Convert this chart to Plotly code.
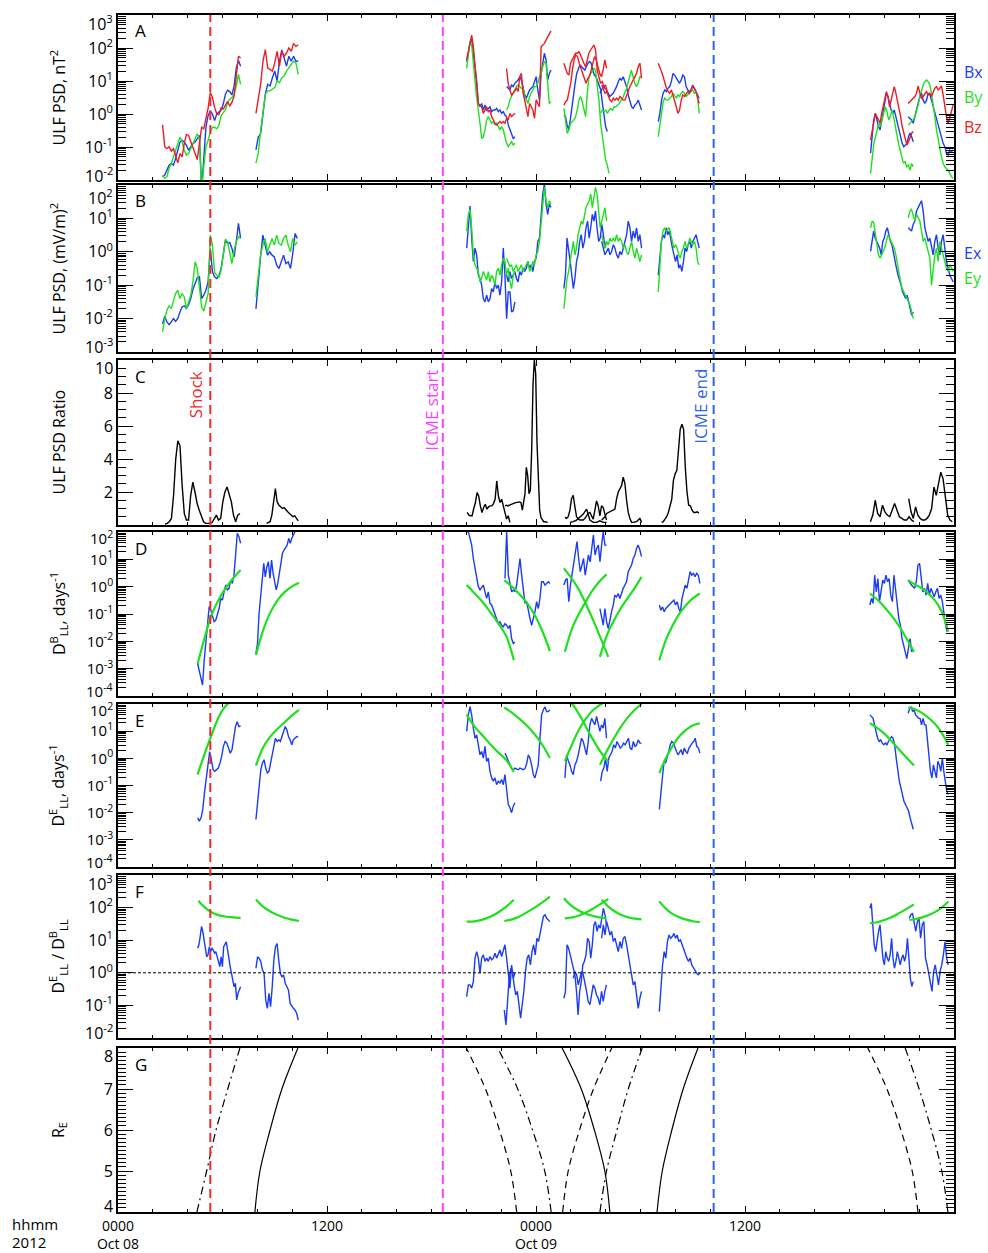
import numpy as np
import plotly.graph_objects as go

# ------------------------------------------------------------------
# DATA  (time in hours since 2012-10-08 00:00 UT; PSD / D_LL as log10)
# each segment: (t_start, t_end, [values sampled evenly over the span])
# ------------------------------------------------------------------
EVENTS = [("Shock", 5.3), ("ICME start", 18.65), ("ICME end", 34.2)]

# Panel A: ULF PSD of magnetic field, log10(nT^2)
A_BX = [
 (2.56, 7.04, [-1.9, -1.85, -1.7, -1.55, -1.5, -1.55, -1.35, -1.1, -0.85, -0.8, -0.85, -0.95, -1.1, -1.0, -0.9, -0.85, -0.75, -0.65, -2.3, -1.3, -0.4, -0.05, 0.1, 0.0, -0.2, 0.0, 0.05, 0.12, 0.3, 0.6, 0.72, 0.68, 0.58, 0.85, 1.4, 1.62, 1.45]),
 (7.92, 10.35, [-1.09, -0.7, -0.6, 0.1, 0.6, 0.9, 0.85, 1.1, 1.3, 1.0, 1.6, 1.94, 1.7, 1.45, 1.75, 1.6, 1.75, 1.6, 1.6]),
 (20.02, 22.79, [1.59, 1.9, 2.15, 2.3, 1.84, 1.3, 1.0, 0.3, 0.22, 0.32, 0.12, 0.27, 0.12, 0.17, 0.22, 0.07, 0.12, 0.12, 0.17, 0.07, 0.12, 0.02, 0.07, -0.03, -0.08, -0.33, -0.48, -0.58, -0.74, -0.69]),
 (22.31, 24.86, [0.83, 0.78, 0.73, 0.88, 0.83, 0.93, 0.98, 1.03, 1.13, 1.03, 0.83, 0.58, 0.48, 0.63, 0.73, 0.78, 0.83, 0.98, 1.13, 0.73, 0.43, 1.23, 1.53, 1.84, 1.64, 1.03, 1.23, 1.33]),
 (25.60, 28.09, [-0.03, -0.08, -0.33, -0.48, -0.18, 0.22, 0.63, 0.93, 1.23, 1.38, 1.49, 1.43, 1.38, 1.33, 1.43, 1.54, 1.59, 1.54, 1.33, 1.18, 1.13, 0.98, 0.83, 0.73, 0.32, 0.02, -0.38, -0.53]),
 (27.67, 30.06, [0.63, 0.73, 0.83, 0.78, 0.73, 0.63, 0.53, 0.58, 0.63, 0.73, 0.83, 0.98, 1.08, 1.03, 1.13, 0.98, 0.83, 0.58, 0.42, 0.22, 0.17, 0.27, 0.32, 0.42, 0.27, 0.12]),
 (31.02, 33.37, [-0.23, 0.02, 0.42, 0.63, 0.73, 0.68, 0.78, 0.83, 0.98, 1.23, 1.18, 1.08, 0.98, 0.93, 1.03, 1.18, 1.13, 0.83, 0.73, 0.68, 0.73, 0.88, 0.78, 0.68, 0.53, 0.48]),
 (43.21, 45.66, [-1.19, -0.69, -0.18, 0.02, -0.18, -0.38, -0.48, -0.18, 0.12, 0.32, 0.63, 0.53, 0.27, 0.12, 0.02, 0.12, -0.08, -0.28, -0.48, -0.69, -0.89, -0.99, -0.94, -0.89, -0.69, -0.58, -0.69, -0.84]),
 (45.37, 47.95, [-0.08, -0.13, -0.18, -0.28, -0.08, 0.12, 0.27, 0.53, 0.63, 0.42, 0.32, 0.42, 0.63, 0.58, 0.42, 0.22, 0.02, -0.18, -0.38, -0.58, -0.74, -0.89, -0.99, -1.19, -1.24, -1.09, -1.14, -1.09]),
]
A_BY = [
 (2.56, 7.04, [-1.85, -1.95, -1.9, -1.65, -1.5, -1.3, -1.1, -0.95, -0.7, -0.85, -1.1, -1.25, -1.2, -1.05, -0.9, -0.7, -0.6, -0.75, -2.3, -1.6, -1.0, -0.8, -0.55, -0.4, -0.4, -0.45, -0.35, -0.05, 0.05, 0.12, 0.35, 0.45, 0.5, 0.6, 0.85, 1.2, 0.9]),
 (7.92, 10.35, [-1.49, -1.2, -0.5, 0.1, 0.6, 0.7, 0.7, 0.75, 0.8, 1.0, 0.95, 1.1, 1.15, 1.3, 1.4, 1.5, 1.6, 1.55, 1.2]),
 (20.02, 22.79, [1.38, 1.9, 2.2, 2.1, 1.64, 1.0, 0.5, 0.0, -0.28, -0.74, -0.69, -0.49, -0.18, -0.08, -0.18, -0.28, -0.23, -0.33, -0.28, -0.38, -0.48, -0.38, -0.48, -0.69, -0.89, -0.99, -0.89, -0.84, -0.94, -0.89]),
 (22.31, 24.86, [0.12, 0.22, 0.43, 0.53, 0.63, 0.73, 0.83, 0.88, 0.83, 0.78, 0.78, 0.53, 0.43, 0.32, 0.53, 0.63, 0.78, 0.83, 0.83, 0.93, 1.13, 1.23, 1.43, 1.58, 1.53, 0.93, 0.32, 0.37]),
 (25.60, 28.19, [0.17, -0.18, -0.59, -0.48, -0.28, -0.23, -0.18, -0.08, 0.12, 0.42, 0.53, 0.37, 0.12, -0.08, 0.63, 1.13, 1.23, 1.28, 1.38, 1.33, 0.83, 0.42, -0.28, -0.69, -1.09, -1.39, -1.55, -1.8]),
 (27.71, 30.06, [0.02, 0.12, 0.07, 0.12, 0.02, 0.12, 0.17, 0.12, 0.22, 0.22, 0.27, 0.32, 0.42, 0.48, 0.63, 0.73, 0.93, 1.18, 1.33, 1.13, 0.93, 0.83, 0.93, 1.13, 1.13]),
 (31.02, 33.37, [-0.69, -0.28, 0.12, 0.37, 0.48, 0.42, 0.42, 0.48, 0.53, 0.63, 0.53, 0.48, 0.58, 0.53, 0.63, 0.68, 0.63, 0.53, 0.58, 0.63, 0.68, 0.73, 0.63, 0.68, 0.53, 0.02]),
 (43.21, 45.66, [-1.8, -1.29, -0.89, -0.69, -0.48, -0.28, -0.38, -0.18, 0.02, 0.22, 0.07, -0.18, -0.08, 0.12, -0.08, -0.38, -0.69, -0.89, -1.09, -1.29, -1.49, -1.44, -1.6, -1.55, -1.7, -1.5, -1.6]),
 (45.37, 47.95, [-0.33, -0.28, -0.23, -0.18, -0.08, 0.07, 0.27, 0.53, 0.73, 0.88, 0.98, 1.03, 0.98, 0.88, 0.63, 0.32, -0.08, -0.48, -0.79, -0.99, -1.29, -1.49, -1.6, -1.65, -1.7, -1.8, -1.9, -1.95]),
]
A_BZ = [
 (2.56, 7.04, [-0.33, -1.0, -1.05, -0.99, -1.12, -1.05, -1.25, -1.48, -1.2, -1.3, -0.9, -0.62, -0.65, -0.82, -0.97, -1.2, -1.38, -0.95, -0.4, -0.45, -0.12, 0.18, 0.65, 0.5, 0.2, 0.0, -0.02, 0.18, 0.15, 0.28, 0.38, 0.25, 0.35, 0.55, 1.2, 1.75, 1.7]),
 (7.92, 10.35, [0.02, 0.53, 0.9, 1.6, 1.95, 1.4, 1.35, 1.3, 1.55, 1.9, 1.45, 1.9, 1.75, 1.85, 2.0, 1.9, 2.14, 2.05, 2.1]),
 (20.02, 22.79, [1.64, 1.9, 2.24, 2.39, 2.04, 1.54, 0.93, 0.32, 0.27, 0.22, 0.02, 0.12, 0.22, 0.07, 0.12, -0.08, -0.18, -0.28, -0.33, -0.28, -0.23, -0.28, -0.23, -0.28, -0.13, -0.18, 0.02, -0.08, -0.03, 0.02]),
 (22.31, 24.86, [1.38, 0.93, 0.73, 0.58, 0.63, 0.73, 0.78, 0.68, 1.13, 1.23, 0.63, 0.43, 0.12, -0.08, 0.32, 0.22, 0.12, -0.13, 0.43, 0.32, 0.22, 2.04, 2.09, 2.14, 2.24, 2.34, 2.45, 2.52]),
 (25.60, 28.09, [1.54, 1.38, 1.23, 1.18, 1.54, 1.64, 1.74, 1.84, 1.84, 1.89, 1.79, 1.69, 1.54, 1.43, 1.64, 1.84, 1.94, 2.04, 2.09, 1.94, 1.33, 1.13, 0.93, 0.98, 0.83, 0.88, 0.63]),
 (25.60, 28.05, [0.27, 0.37, 0.42, 0.63, 0.93, 1.33, 1.64, 1.79, 1.74, 1.54, 1.38, 1.23, 1.03, 0.93, 1.08, 1.13, 1.33, 1.54, 1.74, 1.64, 1.43, 1.23, 1.13, 1.33, 1.64, 1.38]),
 (27.77, 30.06, [0.88, 0.73, 0.63, 0.68, 0.53, 0.42, 0.37, 0.48, 0.42, 0.48, 0.42, 0.53, 0.48, 0.42, 0.42, 0.58, 0.68, 0.83, 0.93, 1.03, 1.13, 1.23, 1.43, 1.54, 1.08]),
 (31.02, 33.37, [1.54, 1.43, 1.28, 1.13, 0.93, 0.78, 0.68, 0.63, 0.73, 0.58, 0.42, 0.22, 0.02, 0.12, 0.42, 0.58, 0.53, 0.63, 0.68, 0.63, 0.73, 0.83, 0.78, 0.68, 0.48, 0.32]),
 (43.21, 45.66, [-0.79, -0.48, -0.18, 0.02, -0.08, -0.18, -0.28, 0.02, 0.22, 0.42, 0.68, 0.53, 0.22, 0.42, 0.68, 0.83, 0.63, 0.42, 0.12, -0.08, -0.38, -0.58, -0.79, -0.94, -0.84, -0.69, -0.58, -0.53]),
 (45.37, 47.95, [0.32, 0.37, 0.42, 0.48, 0.53, 0.63, 0.85, 0.63, 0.48, 0.53, 0.63, 0.68, 0.58, 0.63, 0.53, 0.68, 0.78, 0.83, 0.73, 0.78, 0.85, 0.58, 0.22, -0.08, -0.28, -0.08, 0.12, 0.27]),
]

# Panel B: ULF PSD of electric field, log10((mV/m)^2)
B_EX = [
 (2.56, 7.04, [-2.16, -1.93, -2.1, -2.18, -2.1, -2.0, -2.08, -2.0, -1.8, -1.65, -1.62, -1.7, -1.58, -1.4, -1.12, -0.95, -0.78, -0.75, -1.4, -1.3, -1.15, -0.9, 0.1, -0.6, -0.75, -0.8, -0.72, -0.5, 0.0, 0.35, 0.25, 0.28, 0.1, -0.15, 0.3, 0.85, 0.4]),
 (7.92, 10.30, [-1.71, -0.8, -0.15, 0.5, 0.2, -0.1, 0.0, -0.1, -0.15, -0.4, -0.5, -0.3, -0.1, -0.35, -0.3, -0.5, -0.05, 0.55, 0.4]),
 (20.02, 22.79, [0.11, 0.92, 1.37, 0.41, -0.29, 0.11, -0.09, -0.7, -0.8, -1.0, -1.4, -1.5, -1.3, -1.5, -1.4, -1.1, -1.2, -0.9, -1.1, -1.0, -1.3, -0.9, 0.11, -0.7, -2.0, -1.2, -1.2, -1.8, -1.76, -1.5]),
 (22.31, 24.86, [-0.7, -0.9, -0.59, -0.8, -0.7, -0.59, -0.8, -0.9, -0.59, -0.7, -0.49, -0.59, -0.49, -0.29, -0.49, -0.39, -0.59, -0.29, -0.19, 0.31, 0.41, 1.12, 1.73, 2.03, 1.43, 1.12, 1.43, 1.33]),
 (25.60, 28.05, [-1.1, -0.7, 0.41, 0.11, -0.29, -0.7, -1.1, -0.8, -0.29, -0.09, 0.31, 0.51, 0.11, 0.31, 0.72, 0.92, 0.41, 0.72, 1.12, 0.92, 1.22, 0.72, 0.31, 0.41, 0.82, 0.51, 0.11, 0.31]),
 (27.77, 30.06, [0.31, 0.11, -0.09, 0.01, 0.11, -0.09, 0.01, 0.21, 0.11, -0.09, -0.19, 0.01, -0.09, 0.11, 0.31, 0.51, 0.92, 0.72, 0.31, 0.62, 0.41, 0.72, 0.31, 0.51, 0.11]),
 (31.02, 33.37, [-0.7, -0.09, 0.31, 0.51, 0.41, 0.72, 0.51, 0.62, 0.31, 0.11, -0.09, -0.29, -0.09, -0.49, -0.39, -0.59, -0.29, 0.11, 0.01, 0.21, 0.31, 0.11, 0.31, 0.41, 0.51, 0.31, 0.11]),
 (43.21, 45.66, [0.01, 0.41, 0.62, 0.41, 0.31, 0.21, 0.11, -0.09, 0.31, 0.41, 0.62, 0.72, 0.51, 0.31, 0.21, 0.01, -0.19, -0.49, -0.7, -0.9, -1.0, -1.2, -1.3, -1.4, -1.3, -1.5, -1.7, -1.9, -1.8]),
 (45.37, 47.95, [0.72, 0.67, 0.62, 0.82, 0.92, 1.22, 1.32, 1.43, 1.53, 1.22, 0.72, 0.51, 0.31, 0.41, 0.11, -0.09, 0.31, 0.51, 0.11, -0.09, 0.31, 0.51, 0.11, -0.29, -0.49, -0.7, -0.8, -0.9]),
]
B_EY = [
 (2.56, 7.04, [-2.4, -2.0, -1.75, -1.62, -1.7, -1.5, -1.25, -1.15, -1.4, -1.25, -1.35, -1.7, -1.5, -1.3, -0.9, -0.3, -0.5, -1.0, -1.65, -1.78, -1.5, -1.25, 0.5, 0.2, -0.62, -0.7, -0.78, -0.55, -0.15, 0.38, 0.3, 0.0, -0.35, 0.05, 0.3, 0.45, 0.41]),
 (7.92, 10.30, [-1.35, -0.7, -0.1, 0.2, 0.4, 0.0, 0.2, 0.4, 0.2, 0.5, 0.25, 0.2, 0.4, 0.5, 0.2, 0.0, 0.4, 0.2, 0.3]),
 (20.02, 22.79, [0.62, 1.12, 1.27, 0.72, -0.09, -0.39, -0.49, -0.59, -0.9, -0.8, -0.59, -0.7, -0.85, -0.59, -0.9, -0.7, -0.8, -1.0, -0.59, -0.49, -0.7, -0.39, -0.19, -0.29, -0.7, -0.49, -0.9, -1.1, -0.7, -0.59]),
 (22.31, 24.86, [-0.19, -0.29, -0.44, -0.39, -0.59, -0.49, -0.39, -0.59, -0.49, -0.39, -0.59, -0.49, -0.39, -0.29, -0.59, -0.49, -0.29, -0.39, -0.09, 0.01, 0.31, 0.92, 1.32, 1.93, 1.53, 1.32, 1.53, 1.43]),
 (25.60, 28.05, [-1.7, -1.2, -0.8, -0.59, -0.29, -0.09, 0.31, -0.09, 0.11, 0.51, 0.72, 0.92, 0.82, 1.12, 1.32, 1.43, 1.53, 1.73, 1.32, 1.63, 1.93, 1.73, 1.12, 0.72, 0.92, 1.12, 1.32, 0.92]),
 (27.77, 30.06, [0.51, 0.31, 0.11, 0.31, 0.21, 0.41, 0.31, 0.41, 0.31, 0.51, 0.31, 0.41, 0.31, 0.11, 0.21, 0.01, -0.09, 0.11, 0.31, 0.01, -0.19, 0.11, -0.09, -0.29, -0.09]),
 (31.02, 33.37, [-1.2, -0.39, 0.31, 0.62, 0.72, 0.62, 0.67, 0.72, 0.51, 0.31, 0.11, 0.21, 0.11, -0.09, -0.19, 0.01, 0.11, 0.31, 0.11, 0.21, 0.41, 0.31, 0.21, 0.31, 0.11, -0.29, -0.39]),
 (43.21, 45.66, [0.72, 0.92, 0.87, 0.51, 0.11, -0.09, -0.19, -0.09, 0.01, 0.11, 0.31, 0.51, 0.41, 0.31, 0.21, 0.11, -0.09, -0.39, -0.59, -0.9, -1.1, -1.2, -1.3, -1.4, -1.5, -1.6, -1.8, -2.0]),
 (45.37, 47.95, [1.02, 1.22, 1.27, 1.12, 0.92, 1.12, 1.02, 0.92, 0.62, 0.31, 0.41, 0.21, 0.01, -0.19, -1.0, -0.49, -0.09, 0.11, -0.29, 0.31, 0.11, -0.09, -0.29, -0.49, -0.59, -0.39, -0.49, -0.59]),
]

# Panel C: ULF PSD ratio (linear)
C_RATIO = [
 (2.70, 7.00, [0.05, 0.1, 0.2, 0.4, 1.8, 4.0, 5.1, 4.8, 2.4, 0.7, 0.3, 0.3, 1.8, 2.6, 2.0, 1.3, 0.9, 0.5, 0.2, 0.1, 0.1, 0.1, 0.15, 0.4, 0.6, 0.3, 0.4, 1.4, 2.0, 2.3, 1.8, 1.4, 0.6, 0.2, 0.6, 0.7]),
 (8.53, 10.35, [0.1, 0.15, 0.2, 0.6, 1.5, 2.2, 1.4, 1.2, 1.1, 1.0, 1.05, 0.9, 0.8, 0.7, 0.6, 0.5, 0.55, 0.4, 0.25]),
 (20.05, 22.50, [0.76, 0.6, 0.56, 0.56, 1.0, 1.36, 1.96, 1.76, 1.16, 0.76, 1.06, 1.26, 0.96, 1.1, 1.16, 1.16, 1.3, 1.56, 2.67, 1.76, 1.36, 1.56, 1.16, 0.76, 0.36, 0.56, 0.16]),
 (22.22, 24.67, [1.16, 1.2, 1.16, 1.2, 1.25, 1.26, 1.3, 1.33, 1.36, 1.36, 1.36, 1.4, 1.35, 0.9, 1.4, 1.9, 3.5, 3.0, 1.9, 2.1, 4.5, 8.5, 10.0, 9.2, 5.0, 2.16, 0.9, 0.45, 0.3, 0.2, 0.2, 0.18, 0.16]),
 (25.66, 28.05, [0.46, 0.4, 0.5, 0.9, 1.6, 1.8, 1.1, 0.5, 0.36, 0.3, 0.3, 0.3, 0.4, 0.56, 0.7, 0.76, 0.5, 0.36, 0.9, 1.46, 1.16, 0.56, 1.16, 1.06, 0.66, 0.3]),
 (25.95, 28.05, [0.16, 0.2, 0.3, 0.46, 0.66, 0.96, 0.3, 0.16, 0.16, 0.25, 0.16, 0.16]),
 (27.77, 30.06, [0.3, 0.4, 0.5, 0.7, 0.76, 0.8, 0.86, 0.9, 0.96, 1.6, 2.0, 2.2, 2.4, 2.9, 2.5, 1.5, 0.76, 0.4, 0.16, 0.16, 0.16, 0.2, 0.3, 0.4, 0.16]),
 (31.21, 33.35, [0.16, 0.2, 0.36, 0.5, 0.76, 1.1, 1.56, 2.7, 3.1, 3.3, 4.4, 5.8, 6.1, 5.8, 3.5, 2.0, 1.2, 1.16, 0.9, 0.76, 0.76, 0.8, 0.72]),
 (43.20, 45.70, [0.2, 0.6, 1.5, 0.7, 0.5, 1.2, 0.8, 0.6, 0.5, 0.9, 1.3, 0.9, 0.5, 0.4, 0.3, 0.3, 0.5, 0.3, 0.2]),
 (45.40, 47.90, [1.6, 0.8, 0.4, 1.1, 0.6, 0.4, 0.3, 0.3, 0.4, 0.6, 1.0, 2.3, 1.8, 2.6, 3.2, 2.8, 1.5, 0.6, 0.3, 0.2]),
]

# Panel D: D_LL^B, log10(days^-1): measured (blue) and model (green)
D_MEAS = [
 (4.57, 7.04, [-2.81, -3.05, -3.36, -3.6, -2.69, -1.96, -1.35, -0.73, -0.86, -1.1, -1.28, -1.22, -1.04, -0.8, -0.43, -0.49, -0.19, 0.06, -0.12, -0.06, 0.24, 0.12, 0.43, 1.34, 1.95, 1.83, 1.59]),
 (7.92, 10.16, [-2.44, -2.08, -0.98, -0.19, 0.24, 0.85, 0.36, 0.73, 0.91, 0.3, 0.97, 0.49, 0.24, -0.12, 0.12, 0.49, 0.85, 1.22, 1.34, 1.46, 1.52, 1.77, 1.59, 1.77, 1.89, 2.01]),
 (20.02, 22.79, [2.01, 2.01, 1.77, 1.52, 1.03, 0.67, 0.3, 0.0, -0.12, 0.0, 0.06, -0.19, -0.43, -0.19, -0.61, -0.67, -0.86, -1.04, -1.22, -1.35, -1.28, -1.41, -1.47, -1.35, -1.41, -1.53, -1.41, -1.9, -2.08, -2.02]),
 (22.22, 24.80, [0.3, 2.01, 0.42, 0.12, -0.19, -0.12, -0.19, 0.06, 0.55, 1.03, 0.42, -0.19, -0.61, -0.55, -0.92, -1.16, -1.41, -1.16, -0.92, -0.55, -0.8, -0.43, 0.18, 0.18, 0.06, 0.12, 0.18, 0.12]),
 (25.60, 28.05, [0.06, 0.24, 0.3, -0.55, 0.06, 0.42, 0.79, 1.28, 1.65, 1.03, 0.55, 0.79, 1.03, 0.42, 0.79, 1.16, 0.91, 1.52, 1.89, 1.16, 1.4, 1.52, 0.91, 1.52, 2.01, 1.52, 1.52]),
 (27.67, 30.06, [-0.8, -1.16, -1.41, -0.8, -1.28, -1.53, -1.16, -0.92, -0.67, -0.31, -0.37, -0.25, -0.43, -0.19, -0.06, 0.06, 0.18, 0.55, 0.67, 0.79, 1.03, 1.16, 1.4, 1.52, 1.34, 1.1]),
 (31.08, 33.41, [-0.67, -0.86, -0.74, -0.92, -0.8, -0.74, -0.67, -0.61, -0.55, -0.49, -0.67, -0.55, -0.8, -0.92, -0.43, -0.19, 0.06, -0.06, 0.3, 0.55, 0.42, 0.49, 0.36, 0.49, 0.42, 0.12]),
 (43.17, 45.66, [-0.67, -0.43, -0.61, 0.42, -0.19, 0.3, -0.55, -0.19, 0.24, 0.12, 0.42, 0.18, 0.3, -0.31, -0.55, 0.42, -0.19, -0.67, -1.16, -1.41, -1.9, -2.14, -2.38, -2.63, -2.26, -1.9, -2.38, -2.32]),
 (45.37, 47.61, [0.24, 0.12, 0.06, 0.0, -0.06, 0.18, 0.79, 0.85, 0.42, -0.19, -0.06, -0.31, 0.12, -0.31, -0.06, -0.19, -0.37, -0.19, -0.06, -0.43, -0.31, -0.55, -1.04, -1.41, -1.65]),
]
D_MODEL = [
 (4.57, 7.04, [-2.83, -1.85, -1.0, -0.45, -0.02, 0.32, 0.61]),
 (7.92, 10.39, [-2.5, -1.6, -0.95, -0.5, -0.2, 0.0, 0.14]),
 (20.02, 22.73, [0.06, -0.24, -0.55, -0.93, -1.33, -1.79, -2.69]),
 (22.18, 24.80, [0.24, 0.0, -0.28, -0.6, -1.04, -1.62, -2.36]),
 (25.60, 28.15, [0.67, 0.32, -0.1, -0.65, -1.25, -1.9, -2.57]),
 (25.66, 28.05, [-2.38, -1.55, -1.0, -0.55, -0.13, 0.2, 0.45]),
 (27.67, 30.06, [-2.57, -1.78, -1.25, -0.8, -0.42, -0.05, 0.36]),
 (31.08, 33.41, [-2.69, -1.93, -1.4, -0.98, -0.66, -0.42, -0.25]),
 (43.17, 45.70, [-0.25, -0.47, -0.75, -1.08, -1.45, -1.9, -2.38]),
 (45.37, 47.67, [0.24, 0.08, -0.05, -0.25, -0.5, -0.9, -1.65]),
]

# Panel E: D_LL^E, log10(days^-1)
E_MEAS = [
 (4.57, 7.04, [-2.19, -2.31, -2.19, -1.88, -1.27, -0.78, -0.29, 0.25, -0.05, -0.42, -0.48, -0.42, -0.36, -0.17, 0.07, 0.44, 0.62, 0.56, 0.38, 0.19, 0.32, 0.68, 1.17, 1.35, 1.17, 1.19]),
 (7.92, 10.35, [-2.25, -1.64, -0.91, -0.42, -0.17, -0.05, -0.36, -0.54, -0.48, -0.17, 0.13, 0.44, 0.74, 0.62, 0.68, 0.62, 0.8, 0.99, 1.17, 1.05, 0.8, 0.68, 0.5, 0.68, 0.74, 0.8, 0.78]),
 (20.02, 22.79, [0.99, 1.6, 1.9, 1.6, 1.11, 0.74, 0.86, 0.5, 0.13, 0.25, 0.01, 0.44, -0.11, 0.01, -0.48, -0.72, -0.84, -0.72, -0.97, -0.84, -0.91, -0.78, -0.97, -0.6, -1.09, -1.7, -1.82, -2.0, -1.76, -1.64]),
 (22.22, 24.80, [0.2, 0.05, -0.15, -0.28, -0.38, -0.42, -0.36, -0.4, -0.42, -0.36, -0.4, -0.42, -0.38, -0.2, 0.13, 0.01, -0.24, -0.6, -0.72, -0.48, -0.24, 0.74, 1.6, 1.78, 1.9, 1.72, 1.72, 1.78]),
 (25.66, 28.05, [-0.72, 0.13, -0.09, -0.24, -0.48, -0.6, -0.24, -0.11, 0.13, 0.5, 0.74, 0.62, 0.38, 0.13, 0.62, 1.23, 1.47, 1.35, 1.23, 1.54, 1.23, 0.99, 1.23, 1.11, 1.47, 0.74]),
 (27.71, 30.06, [-0.84, -0.48, -0.36, 0.01, -0.48, 0.01, 0.13, 0.25, 0.5, 0.38, 0.62, 0.5, 0.38, 0.44, 0.56, 0.5, 0.62, 0.74, 0.38, 0.32, 0.62, 0.44, 0.5, 0.68, 0.56, 0.56]),
 (31.08, 33.41, [-1.88, -1.21, -0.48, -0.11, -0.17, 0.01, 0.25, 0.5, 0.62, 0.56, 0.38, 0.25, 0.13, 0.25, 0.32, 0.13, 0.38, 0.25, 0.19, 0.38, 0.5, 0.56, 0.62, 0.74, 0.44, 0.38, 0.19]),
 (43.17, 45.66, [1.6, 1.54, 1.48, 1.23, 0.99, 0.74, 0.62, 0.68, 0.56, 0.5, 0.56, 0.5, 0.62, 0.74, 0.8, 0.74, 0.5, 0.01, -0.48, -0.84, -1.09, -1.33, -1.58, -1.7, -1.82, -1.94, -2.19, -2.43, -2.61]),
 (45.37, 47.67, [1.66, 1.84, 1.9, 1.72, 1.78, 1.6, 1.54, 1.47, 1.47, 1.23, 1.47, 1.23, 1.23, 0.62, 0.01, -0.48, -0.72, -0.24, -0.48, -0.72, -0.11, -0.24, -0.48, 0.01, -0.48, -0.97, -1.21, -1.33]),
]
E_MODEL = [
 (4.57, 7.04, [-0.6, 0.18, 0.9, 1.55, 1.95, 2.15, 2.3]),
 (7.92, 10.39, [-0.27, 0.4, 0.8, 1.08, 1.33, 1.57, 1.78]),
 (20.02, 22.73, [1.62, 1.17, 0.85, 0.52, 0.22, -0.05, -0.5]),
 (22.18, 24.80, [1.87, 1.68, 1.45, 1.2, 0.88, 0.5, 0.01]),
 (25.60, 28.15, [2.35, 2.05, 1.65, 1.15, 0.66, 0.22, -0.12]),
 (25.66, 28.05, [-0.11, 0.5, 1.04, 1.45, 1.76, 1.96, 2.1]),
 (27.67, 30.06, [-0.24, 0.27, 0.73, 1.15, 1.5, 1.78, 2.0]),
 (31.08, 33.41, [-0.54, 0.02, 0.47, 0.82, 1.06, 1.22, 1.29]),
 (43.17, 45.70, [1.29, 1.12, 0.9, 0.62, 0.32, 0.02, -0.26]),
 (45.37, 47.67, [1.87, 1.81, 1.68, 1.5, 1.27, 0.95, 0.5]),
]

# Panel F: D_LL^E / D_LL^B (log10)
F_MEAS = [
 (4.57, 7.04, [0.75, 0.85, 1.11, 1.42, 1.26, 0.95, 0.65, 0.49, 0.55, 0.8, 0.65, 0.75, 0.7, 0.6, 0.65, 0.49, 0.39, 0.19, 0.49, 0.19, 0.8, 0.9, 0.95, 0.7, 0.39, 0.19, -0.02, -0.22, -0.43, -0.32, -0.83, -0.63, -0.53, -0.43]),
 (7.92, 10.35, [0.14, 0.49, 0.44, 0.34, 0.09, -0.02, -0.83, -1.09, -0.63, -1.04, -0.43, 0.39, 0.8, 0.9, 0.39, -0.02, -0.12, -0.07, -0.32, -0.43, -0.53, -0.94, -1.04, -1.09, -1.14, -1.24, -1.45]),
 (20.02, 22.79, [-0.73, -0.37, -0.37, -0.47, -0.27, 0.45, 0.65, 0.45, -0.01, 0.45, 0.55, 0.35, 0.45, 0.35, 0.5, 0.4, 0.45, 0.6, 0.45, 0.6, 0.7, 0.5, 0.65, 0.86, 0.45, -0.06, -0.47, 0.24, -0.17, -0.01]),
 (22.18, 24.80, [-1.14, -1.6, -0.88, -0.17, 0.14, 0.04, -0.37, -0.68, -0.57, -0.98, -1.39, -0.98, -0.57, 0.04, 0.45, 0.55, 0.24, 0.65, 0.86, 0.55, 1.06, 0.96, 1.27, 1.47, 1.73, 1.78, 1.67, 1.62, 1.57]),
 (25.60, 28.05, [-0.78, -0.57, 0.86, 0.75, 0.55, 0.35, 0.14, -0.06, -0.57, -1.29, -0.57, -0.27, 0.24, 0.35, 0.55, 1.06, 0.96, 0.45, 0.86, 1.47, 1.57, 1.27, 1.47, 1.37, 1.67, 1.98, 1.78, 1.47]),
 (26.14, 28.05, [-0.17, 0.04, -0.06, -0.37, -0.17, 0.04, -0.06, -0.27, -0.57, -0.88, -0.98, -0.68, -0.37, -0.47, -0.68, -0.78, -0.98, -0.57, -0.88, -0.57, -0.37]),
 (27.77, 30.06, [1.06, 1.47, 1.16, 1.57, 1.37, 1.16, 1.27, 0.96, 1.06, 0.86, 0.65, 0.96, 0.75, 1.06, 1.11, 0.86, 0.55, 0.24, -0.06, -0.37, -0.27, -0.78, -1.09, -0.78, -0.57]),
 (31.08, 33.41, [-1.19, -0.37, 0.24, 0.65, 0.45, 0.96, 1.16, 1.06, 1.11, 1.21, 1.06, 1.16, 0.96, 1.01, 0.86, 0.75, 0.55, 0.45, 0.35, 0.45, 0.24, 0.14, 0.04, -0.01, -0.06, -0.01]),
 (43.17, 45.66, [1.98, 2.13, 1.47, 0.86, 0.65, 1.06, 1.27, 1.47, 0.86, 0.45, 0.24, 0.65, 0.45, 0.35, 0.55, 1.06, 0.45, 0.14, 0.35, 0.65, 0.45, 0.24, 0.45, 0.55, 0.35, 0.55, 1.06, 0.24, -0.17, -0.42, -0.27]),
 (45.43, 47.67, [1.67, 1.78, 1.83, 1.47, 1.27, 1.57, 1.67, 1.06, 1.47, 1.57, 0.45, 0.24, -0.06, -0.37, -0.57, 0.04, 0.24, -0.06, -0.37, 0.04, 0.24, 0.55, 0.96, 0.45, 0.24]),
]
F_MODEL = [
 (4.61, 7.04, [2.21, 1.99, 1.84, 1.76, 1.72, 1.7, 1.68]),
 (7.92, 10.39, [2.25, 2.03, 1.88, 1.77, 1.69, 1.63, 1.59]),
 (20.02, 22.73, [1.57, 1.58, 1.63, 1.72, 1.85, 2.02, 2.24]),
 (22.18, 24.80, [1.59, 1.64, 1.73, 1.86, 2.0, 2.16, 2.34]),
 (25.60, 28.05, [2.29, 2.07, 1.92, 1.82, 1.75, 1.7, 1.67]),
 (25.66, 28.15, [1.67, 1.7, 1.76, 1.86, 1.98, 2.12, 2.27]),
 (27.77, 30.06, [2.24, 2.03, 1.88, 1.77, 1.7, 1.66, 1.64]),
 (31.08, 33.41, [2.19, 1.96, 1.8, 1.7, 1.63, 1.58, 1.55]),
 (43.17, 45.70, [1.52, 1.55, 1.62, 1.71, 1.83, 1.96, 2.1]),
 (45.43, 47.67, [1.62, 1.65, 1.7, 1.77, 1.87, 2.0, 2.19]),
]

# Panel G: radial distance (R_E) -- times (h) at which each pass crosses R = 4,5,6,7,8
R_LEVELS = [4, 5, 6, 7, 8]
G_SOLID = [[7.86, 8.15, 8.73, 9.41, 10.33],
           [28.24, 27.95, 27.35, 26.6, 25.5],
           [30.95, 31.25, 31.8, 32.45, 33.3]]
G_DASH = [[22.89, 22.55, 21.9, 21.1, 20.0],
          [25.53, 25.85, 26.5, 27.3, 28.35],
          [45.93, 45.6, 44.95, 44.15, 43.05]]
G_DASHDOT = [[4.53, 5.09, 5.63, 6.30, 7.0],
             [24.87, 24.5, 23.8, 22.95, 21.8],
             [27.67, 28.05, 28.65, 29.3, 30.1],
             [47.65, 47.3, 46.7, 46.0, 45.2]]

# ------------------------------------------------------------------
# LAYOUT / STYLE
# ------------------------------------------------------------------
W, H = 988, 1253
PL, PR = 118, 954
PANELS = [(15, 180), (185, 352), (360, 525), (532, 696), (704, 867), (875, 1038), (1048, 1212)]
BLUE, GREEN, RED = "#1c3cf2", "#1fe01f", "#ee1c24"
FONT = "Open Sans"

fig = go.Figure()


def ax(i):
    return ("x" if i == 1 else f"x{i}"), ("y" if i == 1 else f"y{i}")


def add_segs(panel, segs, color, width=1.4, log=True, shape="linear"):
    xs, ys = [], []
    for t0, t1, vals in segs:
        t = np.linspace(t0, t1, len(vals))
        v = np.array(vals, float)
        if log:
            v = 10.0 ** v
        xs += list(t) + [None]
        ys += list(v) + [None]
    xa, ya = ax(panel)
    fig.add_trace(go.Scatter(x=xs, y=ys, mode="lines", xaxis=xa, yaxis=ya,
                             line=dict(color=color, width=width, shape=shape),
                             connectgaps=False, showlegend=False, hoverinfo="skip"))


add_segs(1, A_BX, BLUE)
add_segs(1, A_BY, GREEN)
add_segs(1, A_BZ, RED)
add_segs(2, B_EX, BLUE)
add_segs(2, B_EY, GREEN)
add_segs(3, C_RATIO, "black", log=False)
add_segs(4, D_MEAS, BLUE)
add_segs(4, D_MODEL, GREEN, width=2.2, shape="spline")
add_segs(5, E_MEAS, BLUE)
add_segs(5, E_MODEL, GREEN, width=2.2, shape="spline")
add_segs(6, F_MEAS, BLUE)
add_segs(6, F_MODEL, GREEN, width=2.2, shape="spline")
fig.add_trace(go.Scatter(x=[0, 48], y=[1, 1], mode="lines", xaxis="x6", yaxis="y6",
                         line=dict(color="black", width=1, dash="3px,2px"),
                         showlegend=False, hoverinfo="skip"))

for group, dash in ((G_SOLID, "solid"), (G_DASH, "7px,5px"), (G_DASHDOT, "8px,4px,2px,4px")):
    for times in group:
        fig.add_trace(go.Scatter(x=times, y=R_LEVELS, mode="lines", xaxis="x7", yaxis="y7",
                                 line=dict(color="black", width=1.2, dash=dash, shape="spline"),
                                 showlegend=False, hoverinfo="skip"))


def log_ticks(lo, hi):
    vals = [10.0 ** k for k in range(lo, hi + 1)]
    text = [f"10<sup>{k}</sup>" for k in range(lo, hi + 1)]
    minor = [m * 10.0 ** k for k in range(lo, hi) for m in range(2, 10)]
    return vals, text, minor


YSPEC = [
    ("log", (-2, 3)), ("log", (-3, 2)), ("lin", (0, 10)), ("log", (-4, 2)),
    ("log", (-4, 2)), ("log", (-2, 3)), ("lin", (4, 8)),
]
# tick-label font size per panel (D and E have tightly packed decades)
YFONT = [16, 16, 16, 15, 15, 16, 16]
# inset (px) of the end-of-axis labels from the frame: (top, bottom)
EDGE_INSET = [(8, 5), (12, 6), (8, 6), (5, 6), (5, 6), (8, 6), (8, 6)]

layout = dict(width=W, height=H, margin=dict(l=0, r=0, t=0, b=0, autoexpand=False),
              paper_bgcolor="white", plot_bgcolor="white",
              font=dict(family=FONT, size=16, color="black"), showlegend=False)

edge_labels = []   # (text, y_px, size) for labels at the very ends of an axis (drawn inset)
for i, ((top, bot), (kind, rng), fs, (itop, ibot)) in enumerate(
        zip(PANELS, YSPEC, YFONT, EDGE_INSET), start=1):
    xa, ya = ax(i)
    xkey = "xaxis" if i == 1 else f"xaxis{i}"
    ykey = "yaxis" if i == 1 else f"yaxis{i}"
    xd = dict(domain=[PL / W, PR / W], range=[0, 48], anchor=ya, automargin=False,
              tickmode="array", tickvals=[0, 12, 24, 36],
              ticks="inside", ticklen=6, tickwidth=1.2, tickcolor="black",
              minor=dict(tickmode="array", tickvals=list(range(2, 48, 2)),
                         ticks="inside", ticklen=3, tickwidth=1, tickcolor="black"),
              showline=True, linecolor="black", linewidth=1.6, mirror="ticks",
              showgrid=False, zeroline=False, showticklabels=(i == 7),
              tickfont=dict(family=FONT, size=14))
    if i == 7:
        xd["ticktext"] = ["0000<br>Oct 08", "1200", "0000<br>Oct 09", "1200"]
    layout[xkey] = xd
    yd = dict(domain=[1 - bot / H, 1 - top / H], anchor=xa, automargin=False,
              ticks="inside", ticklen=15, tickwidth=1.2, tickcolor="black",
              showline=True, linecolor="black", linewidth=1.6, mirror="ticks",
              showgrid=False, zeroline=False, tickfont=dict(family=FONT, size=fs))
    if kind == "log":
        v, t, m = log_ticks(*rng)
        minor = dict(tickmode="array", tickvals=m, ticks="inside", ticklen=8,
                     tickwidth=1, tickcolor="black")
        yd.update(type="log", range=list(rng))
    elif i == 3:
        v = [0, 2, 4, 6, 8, 10]
        t = ["", "2", "4", "6", "8", "10"]
        minor = dict(tickmode="array", tickvals=[k * 0.5 for k in range(1, 20)],
                     ticks="inside", ticklen=8, tickwidth=1, tickcolor="black")
        yd.update(range=list(rng))
    else:
        v = [4, 5, 6, 7, 8]
        t = ["4", "5", "6", "7", "8"]
        minor = dict(tickmode="array", tickvals=[4 + k * 0.1 for k in range(1, 40)],
                     ticks="inside", ticklen=8, tickwidth=1, tickcolor="black")
        yd.update(range=list(rng))
    # ends of the axis: labels drawn inset as separate text (as in the original);
    # the end ticks themselves coincide with the frame, so only interior ticks are kept
    if t[0]:
        edge_labels.append((t[0], bot - ibot, fs))
    edge_labels.append((t[-1], top + itop, fs))
    yd.update(tickmode="array", tickvals=list(v[1:-1]), ticktext=list(t[1:-1]), minor=minor)
    layout[ykey] = yd

fig.update_layout(**layout)

for txt, ypx, fs in edge_labels:
    fig.add_annotation(x=114 / W, y=1 - ypx / H, xref="paper", yref="paper",
                       xanchor="right", yanchor="middle", text=txt, showarrow=False,
                       borderpad=0, font=dict(family=FONT, size=fs))

# event lines
EV_COL = {"Shock": "#ee2a2a", "ICME start": "#ff40ff", "ICME end": "#2f63e8"}
EV_LABEL_Y = {"Shock": 395, "ICME start": 410, "ICME end": 406}
EV_SHIFT = {"Shock": -15, "ICME start": -12, "ICME end": -14}
for name, t in EVENTS:
    fig.add_shape(type="line", xref="x7", yref="paper", x0=t, x1=t,
                  y0=1 - 1212 / H, y1=1 - 15 / H,
                  line=dict(color=EV_COL[name], width=2, dash="9px,5px"))
    fig.add_annotation(x=t, xref="x3", y=1 - EV_LABEL_Y[name] / H, yref="paper",
                       xshift=EV_SHIFT[name], text=name, showarrow=False, textangle=-90,
                       xanchor="center", yanchor="middle",
                       font=dict(family=FONT, size=17, color=EV_COL[name]))

# y titles
YTITLES = ["ULF PSD, nT<sup>2</sup>", "ULF PSD, (mV/m)<sup>2</sup>", "ULF PSD Ratio",
           "D<sup>B</sup><sub>LL</sub>, days<sup>-1</sup>", "D<sup>E</sup><sub>LL</sub>, days<sup>-1</sup>",
           "D<sup>E</sup><sub>LL</sub> / D<sup>B</sup><sub>LL</sub>", "R<sub>E</sub>"]
for (top, bot), title, letter in zip(PANELS, YTITLES, "ABCDEFG"):
    fig.add_annotation(x=58 / W, y=1 - (top + bot) / 2 / H, xref="paper", yref="paper",
                       xanchor="center", yanchor="middle",
                       text=title, showarrow=False, textangle=-90,
                       font=dict(family=FONT, size=16))
    fig.add_annotation(x=133 / W, y=1 - (top + 16) / H, xref="paper", yref="paper",
                       xanchor="left", yanchor="middle", text=letter, showarrow=False,
                       font=dict(family=FONT, size=17))

# component labels
for txt, col, ypx in (("Bx", BLUE, 72), ("By", GREEN, 97), ("Bz", RED, 127),
                      ("Ex", BLUE, 253), ("Ey", GREEN, 278)):
    fig.add_annotation(x=962 / W, y=1 - ypx / H, xref="paper", yref="paper", xanchor="left",
                       yanchor="middle",
                       text=txt, showarrow=False, font=dict(family=FONT, size=16, color=col))

for txt, ypx in (("hhmm", 1224), ("2012", 1242)):
    fig.add_annotation(x=10 / W, y=1 - ypx / H, xref="paper", yref="paper", xanchor="left",
                       yanchor="middle", text=txt, showarrow=False,
                       font=dict(family=FONT, size=15))

fig.write_html("out.html")
